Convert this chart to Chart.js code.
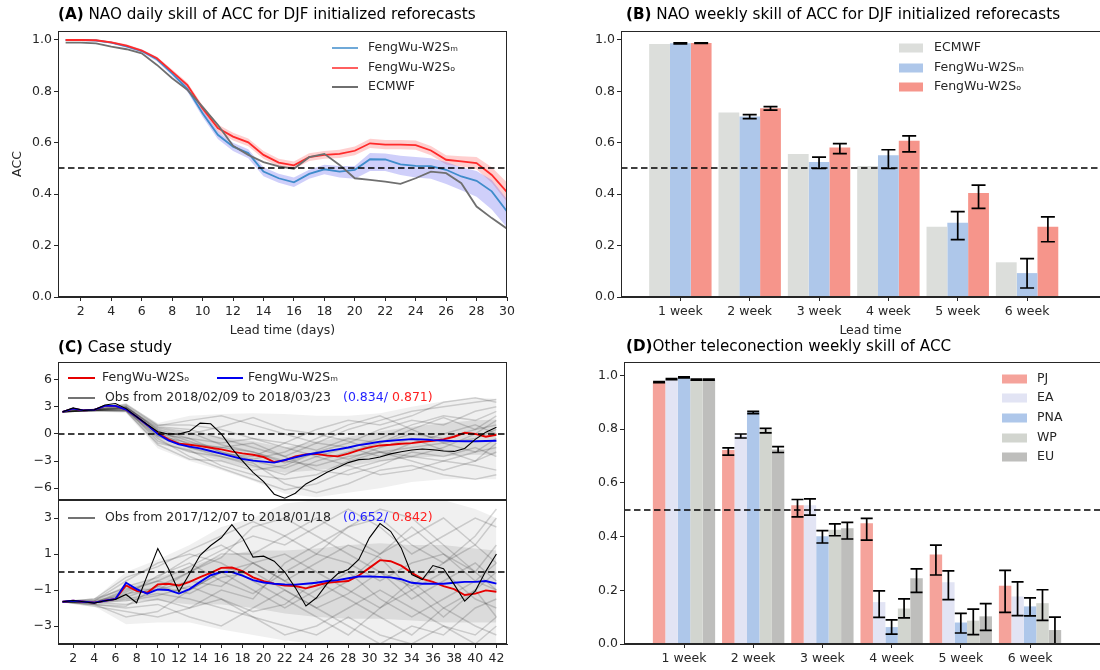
<!DOCTYPE html>
<html>
<head>
<meta charset="utf-8">
<script src="https://cdn.jsdelivr.net/npm/chart.js@4.4.1/dist/chart.umd.min.js"></script>
<style>
  body { margin: 0; width: 1100px; height: 670px; overflow: hidden; position: relative; background: #fff; }
  canvas { position: absolute; }
</style>
</head>
<body>
<canvas id="cA" width="550" height="340" style="left:0;top:0"></canvas>
<canvas id="cB" width="570" height="340" style="left:550px;top:0"></canvas>
<canvas id="cC1" width="550" height="164" style="left:0;top:336px"></canvas>
<canvas id="cC2" width="550" height="170" style="left:0;top:500px"></canvas>
<canvas id="cD" width="570" height="334" style="left:550px;top:336px"></canvas>
<script>
// ---- (A) daily ACC ----
const days = [1,2,3,4,5,6,7,8,9,10,11,12,13,14,15,16,17,18,19,20,21,22,23,24,25,26,27,28,29,30];
const dayTicks = [2,4,6,8,10,12,14,16,18,20,22,24,26,28,30];
const accTicks = [0,0.2,0.4,0.6,0.8,1.0];
const accW2So = [1.0,1.0,0.999,0.991,0.978,0.959,0.929,0.877,0.825,0.734,0.657,0.624,0.602,0.553,0.523,0.512,0.544,0.553,0.557,0.569,0.598,0.593,0.593,0.591,0.570,0.534,0.528,0.521,0.475,0.408];
const accW2SoLow = [0.997,0.997,0.996,0.987,0.973,0.954,0.923,0.869,0.815,0.722,0.643,0.609,0.587,0.538,0.508,0.497,0.529,0.538,0.541,0.552,0.580,0.575,0.575,0.573,0.552,0.516,0.508,0.497,0.445,0.370];
const accW2SoHigh = [1.0,1.0,1.0,0.995,0.983,0.964,0.935,0.885,0.835,0.746,0.671,0.639,0.617,0.568,0.538,0.527,0.559,0.568,0.573,0.586,0.616,0.611,0.611,0.609,0.588,0.552,0.548,0.545,0.505,0.446];
const accW2Sm = [1.0,1.0,0.998,0.990,0.975,0.957,0.925,0.870,0.810,0.715,0.631,0.585,0.560,0.488,0.462,0.446,0.479,0.497,0.488,0.495,0.536,0.535,0.516,0.510,0.509,0.495,0.469,0.452,0.411,0.333];
const accW2SmLow = [0.998,0.998,0.995,0.986,0.970,0.951,0.917,0.861,0.799,0.700,0.615,0.568,0.540,0.470,0.445,0.428,0.460,0.478,0.465,0.460,0.490,0.490,0.475,0.465,0.460,0.440,0.415,0.390,0.340,0.270];
const accW2SmHigh = [1.0,1.0,1.0,0.994,0.980,0.963,0.933,0.879,0.821,0.730,0.645,0.600,0.575,0.505,0.480,0.465,0.495,0.515,0.510,0.510,0.560,0.558,0.550,0.545,0.540,0.525,0.505,0.490,0.455,0.380];
const accEcmwf = [0.990,0.990,0.987,0.974,0.964,0.948,0.903,0.851,0.806,0.740,0.670,0.588,0.553,0.525,0.508,0.499,0.544,0.557,0.514,0.462,0.456,0.449,0.440,0.462,0.488,0.482,0.443,0.352,0.307,0.266];

// ---- (B) weekly NAO ACC ----
const weekPos = [1,2,3,4,5,6];
const weekLabels = ['1 week','2 week','3 week','4 week','5 week','6 week'];
const naoEcmwf = [0.984,0.718,0.556,0.510,0.273,0.135];
const naoW2Sm = [0.987,0.702,0.525,0.552,0.289,0.093];
const naoW2SmLow = [0.985,0.694,0.500,0.500,0.223,0.035];
const naoW2SmHigh = [0.989,0.710,0.544,0.573,0.332,0.149];
const naoW2So = [0.988,0.734,0.582,0.608,0.405,0.273];
const naoW2SoLow = [0.987,0.727,0.558,0.565,0.345,0.215];
const naoW2SoHigh = [0.989,0.741,0.597,0.627,0.435,0.312];

// ---- (C) case study ----
const caseDays = [1,2,3,4,5,6,7,8,9,10,11,12,13,14,15,16,17,18,19,20,21,22,23,24,25,26,27,28,29,30,31,32,33,34,35,36,37,38,39,40,41,42];
const caseTicks = [2,4,6,8,10,12,14,16,18,20,22,24,26,28,30,32,34,36,38,40,42];
const topTicks = [-6,-3,0,3,6];
const botTicks = [-3,-1,1,3];
const obsTop = [2.44,2.88,2.6,2.66,3.2,3.36,2.8,1.9,1.05,0.24,0.0,0.0,0.3,1.19,1.12,0.0,-1.6,-2.99,-4.24,-5.27,-6.66,-7.1,-6.55,-5.52,-4.9,-4.24,-3.72,-3.17,-2.84,-2.77,-2.55,-2.2,-1.96,-1.78,-1.67,-1.75,-1.89,-1.93,-1.6,-0.6,0.2,0.75];
const redTop = [2.44,2.8,2.6,2.66,3.1,3.1,2.7,1.9,1.0,0.1,-0.6,-1.08,-1.2,-1.34,-1.52,-1.7,-1.96,-2.15,-2.3,-2.55,-3.1,-2.92,-2.48,-2.26,-2.2,-2.4,-2.48,-2.18,-1.78,-1.48,-1.27,-1.2,-1.08,-1.01,-0.86,-0.75,-0.6,-0.31,0.13,0.0,-0.3,-0.09];
const blueTop = [2.44,2.8,2.6,2.66,3.1,3.1,2.7,1.9,1.0,0.0,-0.7,-1.16,-1.4,-1.6,-1.89,-2.18,-2.48,-2.77,-2.95,-3.06,-3.17,-2.88,-2.59,-2.3,-2.1,-1.9,-1.71,-1.5,-1.23,-1.05,-0.85,-0.75,-0.65,-0.57,-0.6,-0.68,-0.72,-0.79,-0.8,-0.8,-0.78,-0.75];
const obsBot = [-1.65,-1.58,-1.65,-1.73,-1.6,-1.52,-1.25,-1.71,-0.2,1.3,0.2,-1.1,-0.1,0.93,1.47,1.9,2.63,1.9,0.83,0.88,0.6,0.0,-0.88,-1.89,-1.43,-0.65,-0.1,0.14,0.7,1.9,2.69,2.26,1.34,-0.14,-0.42,0.36,0.18,-0.69,-1.62,-1.06,0.05,1.0];
const redBot = [-1.65,-1.6,-1.65,-1.7,-1.6,-1.5,-0.75,-1.05,-1.15,-0.69,-0.65,-0.75,-0.55,-0.29,-0.05,0.23,0.25,0.05,-0.3,-0.51,-0.65,-0.75,-0.78,-0.91,-0.75,-0.6,-0.55,-0.5,-0.19,0.23,0.66,0.6,0.35,-0.05,-0.38,-0.55,-0.78,-0.95,-1.28,-1.2,-1.02,-1.1];
const blueBot = [-1.65,-1.6,-1.65,-1.7,-1.6,-1.5,-0.6,-0.95,-1.2,-0.97,-1.0,-1.2,-0.95,-0.55,-0.18,0.0,0.0,-0.2,-0.45,-0.58,-0.65,-0.69,-0.7,-0.65,-0.6,-0.5,-0.45,-0.35,-0.25,-0.25,-0.27,-0.3,-0.4,-0.6,-0.65,-0.65,-0.65,-0.6,-0.55,-0.55,-0.5,-0.65];
// ensemble spread, read every third day
const memberDays = [1,4,7,10,13,16,19,22,25,28,31,34,37,40,42];
const topOuterLow = [2.44,2.5,2.3,-1.6,-3.0,-4.0,-5.2,-6.6,-7.0,-6.5,-6.0,-5.3,-5.0,-5.0,-5.0];
const topOuterHigh = [2.44,2.8,3.3,1.2,2.0,2.2,2.3,2.2,2.0,2.0,2.3,3.0,3.6,4.0,3.9];
const topInnerLow = [2.44,2.6,2.5,-0.8,-2.0,-3.0,-3.8,-4.3,-4.0,-3.6,-3.0,-2.6,-2.5,-2.3,-2.3];
const topInnerHigh = [2.44,2.7,3.1,0.5,0.0,-0.3,-0.8,-1.5,-0.8,-0.3,0.3,0.8,1.2,1.5,1.6];
const botOuterLow = [-1.7,-1.9,-2.9,-2.8,-2.8,-3.2,-3.5,-3.8,-4.0,-4.0,-4.0,-4.0,-4.0,-4.0,-4.0];
const botOuterHigh = [-1.6,-1.5,0.0,0.7,1.5,2.5,3.0,3.8,4.0,4.0,4.0,4.0,4.0,3.5,3.0];
const botInnerLow = [-1.65,-1.8,-1.6,-1.6,-1.8,-1.8,-2.0,-2.3,-2.5,-2.6,-2.6,-2.7,-2.8,-2.8,-2.8];
const botInnerHigh = [-1.6,-1.6,-0.8,-0.3,0.3,0.9,1.2,1.2,1.3,1.5,1.6,1.5,1.5,1.3,1.2];
const topMembers = [
  [2.44,2.6,3.0,0.8,0.5,-0.5,-1.5,-2.5,-1.0,0.5,1.5,2.5,3.0,3.5,3.8],
  [2.44,2.7,2.8,0.2,-1.5,-2.5,-3.5,-4.5,-3.0,-2.0,-1.0,0.0,-0.5,0.5,1.0],
  [2.44,2.6,2.6,-0.5,-2.5,-3.8,-5.0,-6.2,-5.5,-4.0,-3.0,-2.5,-3.0,-3.5,-4.0],
  [2.44,2.7,3.2,0.9,1.5,2.0,1.0,0.0,-1.0,-1.5,-0.5,1.0,2.0,1.5,2.5],
  [2.44,2.6,2.7,-0.2,-1.0,-1.5,-2.0,-3.0,-3.5,-2.5,-2.0,-1.5,-1.0,-2.0,-1.5],
  [2.44,2.7,2.9,0.5,-0.5,-1.0,-0.5,-1.5,-2.5,-3.5,-4.5,-4.0,-3.0,-2.0,-0.5],
  [2.44,2.6,2.5,-1.2,-2.8,-3.0,-4.0,-3.5,-2.0,-1.0,0.5,1.5,1.0,2.5,3.0],
  [2.44,2.7,3.0,0.3,-0.8,-2.0,-2.8,-2.0,-0.5,1.0,2.0,0.5,-1.0,-0.5,0.5],
  [2.44,2.6,2.8,-0.8,-2.0,-2.5,-3.2,-5.5,-6.5,-5.5,-4.0,-3.5,-4.5,-5.0,-4.5],
  [2.44,2.6,2.9,0.6,0.0,0.8,1.8,0.5,0.0,-0.8,-2.0,-2.5,-1.5,0.0,1.5],
  [2.44,2.7,3.3,1.0,1.0,0.5,-0.5,-1.0,0.5,1.5,1.0,2.0,3.5,4.0,3.5],
  [2.44,2.6,2.5,-1.0,-1.8,-3.5,-4.5,-5.0,-4.5,-3.0,-2.0,-3.0,-4.0,-3.0,-2.0],
  [2.44,2.65,2.7,0.0,-0.5,-2.0,-3.0,-3.8,-2.5,-1.5,-2.5,-1.0,0.0,1.0,0.0],
  [2.44,2.7,3.1,0.4,-1.2,-1.5,-1.0,-2.5,-4.0,-4.5,-3.5,-2.0,-2.5,-1.5,-2.5],
  [2.44,2.6,2.6,-0.3,-1.5,-2.2,-2.5,-1.0,-1.8,-0.5,-1.0,0.5,1.8,0.5,2.0],
  [2.44,2.65,2.9,0.7,0.2,-1.2,-2.0,-3.2,-2.0,-2.8,-1.5,-0.5,-1.8,-3.0,-1.0]
];
const botMembers = [
  [-1.65,-1.7,-1.0,-0.5,0.3,1.2,2.0,1.5,2.5,3.5,2.5,1.0,2.0,3.0,2.5],
  [-1.65,-1.7,-1.5,-1.2,-1.5,-2.0,-2.5,-3.0,-3.5,-2.5,-3.5,-4.0,-3.0,-3.5,-2.5],
  [-1.65,-1.6,-0.8,-0.3,0.8,1.5,0.5,-0.5,-1.5,-0.5,1.0,2.0,3.0,1.5,0.5],
  [-1.65,-1.8,-2.5,-2.2,-1.0,0.0,-1.0,-2.0,-1.0,0.0,-1.5,-2.5,-1.5,-0.5,-1.0],
  [-1.65,-1.7,-1.2,-1.0,-0.5,-0.8,0.5,1.0,0.0,-1.0,-2.0,-1.0,0.0,-1.5,-2.0],
  [-1.65,-1.7,-1.8,-1.5,-2.0,-1.0,-1.5,0.5,1.5,2.5,3.5,3.0,1.5,0.0,-1.0],
  [-1.65,-1.6,-0.5,0.5,1.0,0.5,-0.5,-1.5,-2.5,-3.5,-2.0,-0.5,-2.0,-3.0,-3.5],
  [-1.65,-1.7,-1.4,-0.8,0.0,0.8,2.5,3.0,2.0,1.0,0.0,-0.8,0.5,1.5,3.0],
  [-1.65,-1.8,-2.0,-1.8,-2.5,-3.0,-2.0,-1.0,-2.0,-3.0,-4.0,-3.0,-3.5,-2.0,-1.5],
  [-1.65,-1.7,-1.1,-0.5,-1.0,0.0,0.5,-0.5,0.5,1.5,0.8,-1.0,-2.5,-1.0,0.0],
  [-1.65,-1.5,-0.3,0.3,1.2,2.0,2.8,2.0,1.0,2.5,3.0,1.5,0.5,2.0,3.5],
  [-1.65,-1.9,-2.2,-2.5,-2.0,-1.5,-2.5,-3.5,-3.0,-2.0,-1.0,-2.0,-3.0,-4.0,-3.0],
  [-1.65,-1.6,-1.3,-0.2,0.5,-0.5,-1.2,0.0,1.0,0.5,-0.5,0.5,1.0,0.0,1.5],
  [-1.65,-1.7,-1.6,-1.3,-0.8,-1.5,-2.2,-1.8,-0.5,-1.5,-2.5,-3.5,-2.0,-1.0,-2.5],
  [-1.65,-1.5,-0.9,-1.0,0.0,1.0,1.0,2.0,3.0,2.0,1.0,2.5,1.0,-0.5,0.5],
  [-1.65,-1.8,-1.9,-0.8,-1.2,-0.3,0.0,-1.0,-2.0,-1.2,0.0,-1.5,-0.5,0.5,-0.5]
];

// ---- (D) other teleconnections ----
const pj = [0.975,0.722,0.517,0.450,0.333,0.217];
const pjLow = [0.973,0.703,0.473,0.387,0.257,0.118];
const pjHigh = [0.977,0.730,0.538,0.468,0.368,0.274];
const ea = [0.986,0.775,0.517,0.156,0.230,0.177];
const eaLow = [0.984,0.767,0.480,0.099,0.165,0.106];
const eaHigh = [0.988,0.782,0.540,0.198,0.272,0.231];
const pna = [0.993,0.863,0.401,0.063,0.080,0.140];
const pnaLow = [0.991,0.858,0.376,0.037,0.041,0.105];
const pnaHigh = [0.995,0.866,0.422,0.090,0.114,0.172];
const wp = [0.984,0.796,0.425,0.132,0.087,0.152];
const wpLow = [0.982,0.786,0.403,0.097,0.035,0.088];
const wpHigh = [0.986,0.803,0.447,0.168,0.130,0.202];
const eu = [0.984,0.724,0.431,0.245,0.103,0.052];
const euLow = [0.982,0.713,0.391,0.192,0.051,0.0];
const euHigh = [0.986,0.735,0.453,0.280,0.150,0.100];

const F = "'DejaVu Sans', sans-serif";
const INK = '#262626';
const TICK_SIZE = 12.5;
const TITLE_SIZE = 15.2;

function pts(xs, ys) { return xs.map((x, i) => ({ x: x, y: ys[i] })); }

// fixed axis sizes, no automatic padding from edge labels
function fixSize(s, w, h) {
  if (w !== undefined) s.width = w;
  if (h !== undefined) s.height = h;
  s.paddingTop = 0; s.paddingBottom = 0; s.paddingLeft = 0; s.paddingRight = 0;
}

function axisY(o) {
  return {
    type: 'linear', min: o.min, max: o.max,
    afterFit(s) { fixSize(s, o.width); },
    afterBuildTicks(s) { s.ticks = o.ticks.map(v => ({ value: v })); },
    ticks: { color: INK, font: { family: F, size: TICK_SIZE }, padding: 2, callback: o.fmt },
    grid: { drawOnChartArea: false, tickLength: 4, tickColor: INK },
    border: { color: INK, width: 1 },
    title: o.title
      ? { display: true, text: o.title, color: INK, font: { family: F, size: TICK_SIZE }, padding: { top: 10, bottom: 0 } }
      : { display: false }
  };
}

function axisX(o) {
  return {
    type: 'linear', min: o.min, max: o.max, offset: false, display: o.display !== false,
    afterFit(s) { fixSize(s, undefined, o.height); },
    afterBuildTicks(s) { s.ticks = o.ticks.map(v => ({ value: v })); },
    ticks: { color: INK, font: { family: F, size: TICK_SIZE }, padding: 3, autoSkip: false, maxRotation: 0, callback: o.fmt },
    grid: { drawOnChartArea: false, offset: false, tickLength: 4, tickColor: INK },
    border: { color: INK, width: 1 },
    title: o.title
      ? { display: true, text: o.title, color: INK, font: { family: F, size: TICK_SIZE }, padding: { top: 0, bottom: 2 } }
      : { display: false }
  };
}

// frame, dashed reference line, error bars, legends and panel titles
const deco = {
  id: 'deco',
  afterDatasetsDraw(chart, args, o) {
    const { ctx, chartArea: a, scales } = chart;
    ctx.save();
    ctx.beginPath();
    ctx.rect(a.left, a.top, a.width, a.height);
    ctx.clip();
    chart.data.datasets.forEach((ds, i) => {
      if (!ds.errLow) return;
      chart.getDatasetMeta(i).data.forEach((bar, j) => {
        const y1 = scales.y.getPixelForValue(ds.errLow[j]);
        const y2 = scales.y.getPixelForValue(ds.errHigh[j]);
        ctx.strokeStyle = '#000';
        ctx.lineWidth = 1.7;
        ctx.beginPath();
        ctx.moveTo(bar.x, y1); ctx.lineTo(bar.x, y2);
        ctx.moveTo(bar.x - o.cap, y1); ctx.lineTo(bar.x + o.cap, y1);
        ctx.moveTo(bar.x - o.cap, y2); ctx.lineTo(bar.x + o.cap, y2);
        ctx.stroke();
      });
    });
    if (o.refY !== undefined) {
      const y = Math.round(scales.y.getPixelForValue(o.refY));
      ctx.strokeStyle = '#000';
      ctx.lineWidth = 1.6;
      ctx.setLineDash([6.5, 3.5]);
      ctx.beginPath();
      ctx.moveTo(a.left, y); ctx.lineTo(a.right, y);
      ctx.stroke();
    }
    ctx.restore();
  },
  afterDraw(chart, args, o) {
    const { ctx, chartArea: a } = chart;
    ctx.save();
    ctx.strokeStyle = INK;
    ctx.lineWidth = 1;
    ctx.strokeRect(a.left + 0.5, a.top + 0.5, a.width - 1, a.height - 1);
    ctx.textBaseline = 'middle';
    (o.legend || []).forEach(it => {
      if (it.kind === 'box') {
        ctx.fillStyle = it.color;
        ctx.fillRect(it.x1, it.y - 4.5, it.x2 - it.x1, 9);
      } else {
        ctx.strokeStyle = it.color;
        ctx.lineWidth = it.lw || 1.5;
        ctx.beginPath();
        ctx.moveTo(it.x1, it.y); ctx.lineTo(it.x2, it.y);
        ctx.stroke();
      }
      if (it.text) {
        ctx.fillStyle = INK;
        ctx.font = TICK_SIZE + 'px ' + F;
        ctx.fillText(it.text, it.tx, it.y);
      }
    });
    (o.notes || []).forEach(n => {
      ctx.fillStyle = n.color;
      ctx.font = TICK_SIZE + 'px ' + F;
      ctx.fillText(n.text, n.x, n.y);
    });
    if (o.title) {
      const t = o.title;
      ctx.fillStyle = '#000';
      ctx.font = 'bold ' + TITLE_SIZE + 'px ' + F;
      ctx.fillText(t.bold, t.x, t.y);
      const w = ctx.measureText(t.bold).width;
      ctx.font = TITLE_SIZE + 'px ' + F;
      ctx.fillText(t.rest, t.x + w, t.y);
    }
    ctx.restore();
  }
};

const baseOpts = {
  responsive: false,
  animation: false,
  events: [],
  elements: { point: { radius: 0 }, line: { tension: 0 } }
};
const fmt1 = v => v.toFixed(1);
const fmt0 = v => String(v);
const fmtMinus = v => (v < 0 ? '\u2212' + Math.abs(v) : String(v));
const fmtWeek = (v, i) => weekLabels[i];

function band(lo, hi, color) {
  return [
    { data: lo, borderWidth: 0, fill: false, order: 9 },
    { data: hi, borderWidth: 0, fill: '-1', backgroundColor: color, order: 9 }
  ];
}

// (A)
new Chart(document.getElementById('cA'), {
  type: 'line',
  data: {
    datasets: [
      { data: pts(days, accEcmwf), borderColor: '#6f6f6f', borderWidth: 1.8, order: 0 },
      { data: pts(days, accW2So), borderColor: '#ff2a2a', borderWidth: 1.8, order: 1 },
      { data: pts(days, accW2Sm), borderColor: '#3f8ccb', borderWidth: 1.8, order: 2 },
      ...band(pts(days, accW2SmLow), pts(days, accW2SmHigh), 'rgba(110,110,240,0.33)'),
      ...band(pts(days, accW2SoLow), pts(days, accW2SoHigh), 'rgba(255,110,110,0.33)')
    ]
  },
  options: Object.assign({}, baseOpts, {
    layout: { autoPadding: false, padding: { top: 31, right: 43, left: 0, bottom: 0 } },
    scales: {
      x: axisX({ min: 0.5, max: 30, ticks: dayTicks, fmt: fmt0, height: 43, title: 'Lead time (days)' }),
      y: axisY({ min: 0, max: 1.035, ticks: accTicks, fmt: fmt1, width: 58, title: 'ACC' })
    },
    plugins: {
      legend: { display: false }, tooltip: { enabled: false },
      deco: {
        refY: 0.5,
        title: { bold: '(A)', rest: ' NAO daily skill of ACC for DJF initialized reforecasts', x: 58, y: 15 },
        legend: [
          { color: '#3f8ccb', x1: 332, x2: 358, y: 48, text: 'FengWu-W2S\u2098', tx: 368 },
          { color: '#ff2a2a', x1: 332, x2: 358, y: 68, text: 'FengWu-W2S\u2092', tx: 368 },
          { color: '#6f6f6f', x1: 332, x2: 358, y: 87, text: 'ECMWF', tx: 368, lw: 2 }
        ]
      }
    }
  }),
  plugins: [deco]
});

// (B)
new Chart(document.getElementById('cB'), {
  type: 'bar',
  data: {
    datasets: [
      { data: pts(weekPos, naoEcmwf), backgroundColor: '#dcdedb' },
      { data: pts(weekPos, naoW2Sm), backgroundColor: '#aec7ea', errLow: naoW2SmLow, errHigh: naoW2SmHigh },
      { data: pts(weekPos, naoW2So), backgroundColor: '#f6958b', errLow: naoW2SoLow, errHigh: naoW2SoHigh }
    ]
  },
  options: Object.assign({}, baseOpts, {
    datasets: { bar: { categoryPercentage: 0.9, barPercentage: 1, borderWidth: 0 } },
    layout: { autoPadding: false, padding: { top: 31, right: 0, left: 0, bottom: 0 } },
    scales: {
      x: axisX({ min: 0.144, max: 7.34, ticks: weekPos, fmt: fmtWeek, height: 43, title: 'Lead time' }),
      y: axisY({ min: 0, max: 1.035, ticks: accTicks, fmt: fmt1, width: 71 })
    },
    plugins: {
      legend: { display: false }, tooltip: { enabled: false },
      deco: {
        refY: 0.5, cap: 7,
        title: { bold: '(B)', rest: ' NAO weekly skill of ACC for DJF initialized reforecasts', x: 76, y: 15 },
        legend: [
          { kind: 'box', color: '#dcdedb', x1: 349, x2: 373, y: 48, text: 'ECMWF', tx: 384 },
          { kind: 'box', color: '#aec7ea', x1: 349, x2: 373, y: 68, text: 'FengWu-W2S\u2098', tx: 384 },
          { kind: 'box', color: '#f6958b', x1: 349, x2: 373, y: 87, text: 'FengWu-W2S\u2092', tx: 384 }
        ]
      }
    }
  }),
  plugins: [deco]
});

// (C) two stacked panels
function caseSets(obs, red, blue, outer, inner, members) {
  return [
    { data: pts(caseDays, obs), borderColor: '#000', borderWidth: 1.1, order: 0 },
    { data: pts(caseDays, red), borderColor: '#e60000', borderWidth: 1.9, order: 2 },
    { data: pts(caseDays, blue), borderColor: '#0000f0', borderWidth: 1.9, order: 1 },
    ...members.map(m => ({ data: pts(memberDays, m), borderColor: 'rgba(0,0,0,0.16)', borderWidth: 1.5, order: 5 })),
    ...band(pts(memberDays, outer[0]), pts(memberDays, outer[1]), 'rgba(0,0,0,0.06)'),
    ...band(pts(memberDays, inner[0]), pts(memberDays, inner[1]), 'rgba(0,0,0,0.09)')
  ];
}

new Chart(document.getElementById('cC1'), {
  type: 'line',
  data: { datasets: caseSets(obsTop, redTop, blueTop, [topOuterLow, topOuterHigh], [topInnerLow, topInnerHigh], topMembers) },
  options: Object.assign({}, baseOpts, {
    layout: { autoPadding: false, padding: { top: 26, right: 43, left: 0, bottom: 0 } },
    scales: {
      x: axisX({ min: 0.57, max: 43, ticks: caseTicks, fmt: fmt0, height: 0, display: false }),
      y: axisY({ min: -7.3, max: 7.95, ticks: topTicks, fmt: fmtMinus, width: 58 })
    },
    plugins: {
      legend: { display: false }, tooltip: { enabled: false },
      deco: {
        refY: 0,
        title: { bold: '(C)', rest: ' Case study', x: 58, y: 12 },
        legend: [
          { color: '#e60000', x1: 68, x2: 95, y: 42, text: 'FengWu-W2S\u2092', tx: 102, lw: 2 },
          { color: '#0000f0', x1: 217, x2: 243, y: 42, text: 'FengWu-W2S\u2098', tx: 248, lw: 2 },
          { color: '#000', x1: 68, x2: 95, y: 62, text: 'Obs from 2018/02/09 to 2018/03/23', tx: 105, lw: 1.1 }
        ],
        notes: [
          { text: '(0.834/', color: '#1f1fff', x: 343, y: 62 },
          { text: '0.871)', color: '#ff1f1f', x: 392, y: 62 }
        ]
      }
    }
  }),
  plugins: [deco]
});

new Chart(document.getElementById('cC2'), {
  type: 'line',
  data: { datasets: caseSets(obsBot, redBot, blueBot, [botOuterLow, botOuterHigh], [botInnerLow, botInnerHigh], botMembers) },
  options: Object.assign({}, baseOpts, {
    layout: { autoPadding: false, padding: { top: 0, right: 43, left: 0, bottom: 0 } },
    scales: {
      x: axisX({ min: 0.57, max: 43, ticks: caseTicks, fmt: fmt0, height: 26 }),
      y: axisY({ min: -4, max: 4, ticks: botTicks, fmt: fmtMinus, width: 58 })
    },
    plugins: {
      legend: { display: false }, tooltip: { enabled: false },
      deco: {
        refY: 0,
        legend: [
          { color: '#000', x1: 68, x2: 95, y: 18, text: 'Obs from 2017/12/07 to 2018/01/18', tx: 105, lw: 1.1 }
        ],
        notes: [
          { text: '(0.652/', color: '#1f1fff', x: 343, y: 18 },
          { text: '0.842)', color: '#ff1f1f', x: 392, y: 18 }
        ]
      }
    }
  }),
  plugins: [deco]
});

// (D)
new Chart(document.getElementById('cD'), {
  type: 'bar',
  data: {
    datasets: [
      { data: pts(weekPos, pj), backgroundColor: '#f5a39b', errLow: pjLow, errHigh: pjHigh },
      { data: pts(weekPos, ea), backgroundColor: '#e2e4f4', errLow: eaLow, errHigh: eaHigh },
      { data: pts(weekPos, pna), backgroundColor: '#aec7ea', errLow: pnaLow, errHigh: pnaHigh },
      { data: pts(weekPos, wp), backgroundColor: '#d2d5cf', errLow: wpLow, errHigh: wpHigh },
      { data: pts(weekPos, eu), backgroundColor: '#bebebc', errLow: euLow, errHigh: euHigh }
    ]
  },
  options: Object.assign({}, baseOpts, {
    datasets: { bar: { categoryPercentage: 0.9, barPercentage: 1, borderWidth: 0 } },
    layout: { autoPadding: false, padding: { top: 26, right: 0, left: 0, bottom: 0 } },
    scales: {
      x: axisX({ min: 0.133, max: 7.30, ticks: weekPos, fmt: fmtWeek, height: 26 }),
      y: axisY({ min: 0, max: 1.05, ticks: accTicks, fmt: fmt1, width: 74 })
    },
    plugins: {
      legend: { display: false }, tooltip: { enabled: false },
      deco: {
        refY: 0.5, cap: 6,
        title: { bold: '(D)', rest: 'Other teleconection weekly skill of ACC', x: 76, y: 11 },
        legend: [
          { kind: 'box', color: '#f5a39b', x1: 452, x2: 477, y: 43, text: 'PJ', tx: 487 },
          { kind: 'box', color: '#e2e4f4', x1: 452, x2: 477, y: 62, text: 'EA', tx: 487 },
          { kind: 'box', color: '#aec7ea', x1: 452, x2: 477, y: 82, text: 'PNA', tx: 487 },
          { kind: 'box', color: '#d2d5cf', x1: 452, x2: 477, y: 102, text: 'WP', tx: 487 },
          { kind: 'box', color: '#bebebc', x1: 452, x2: 477, y: 121, text: 'EU', tx: 487 }
        ]
      }
    }
  }),
  plugins: [deco]
});
</script>
</body>
</html>
